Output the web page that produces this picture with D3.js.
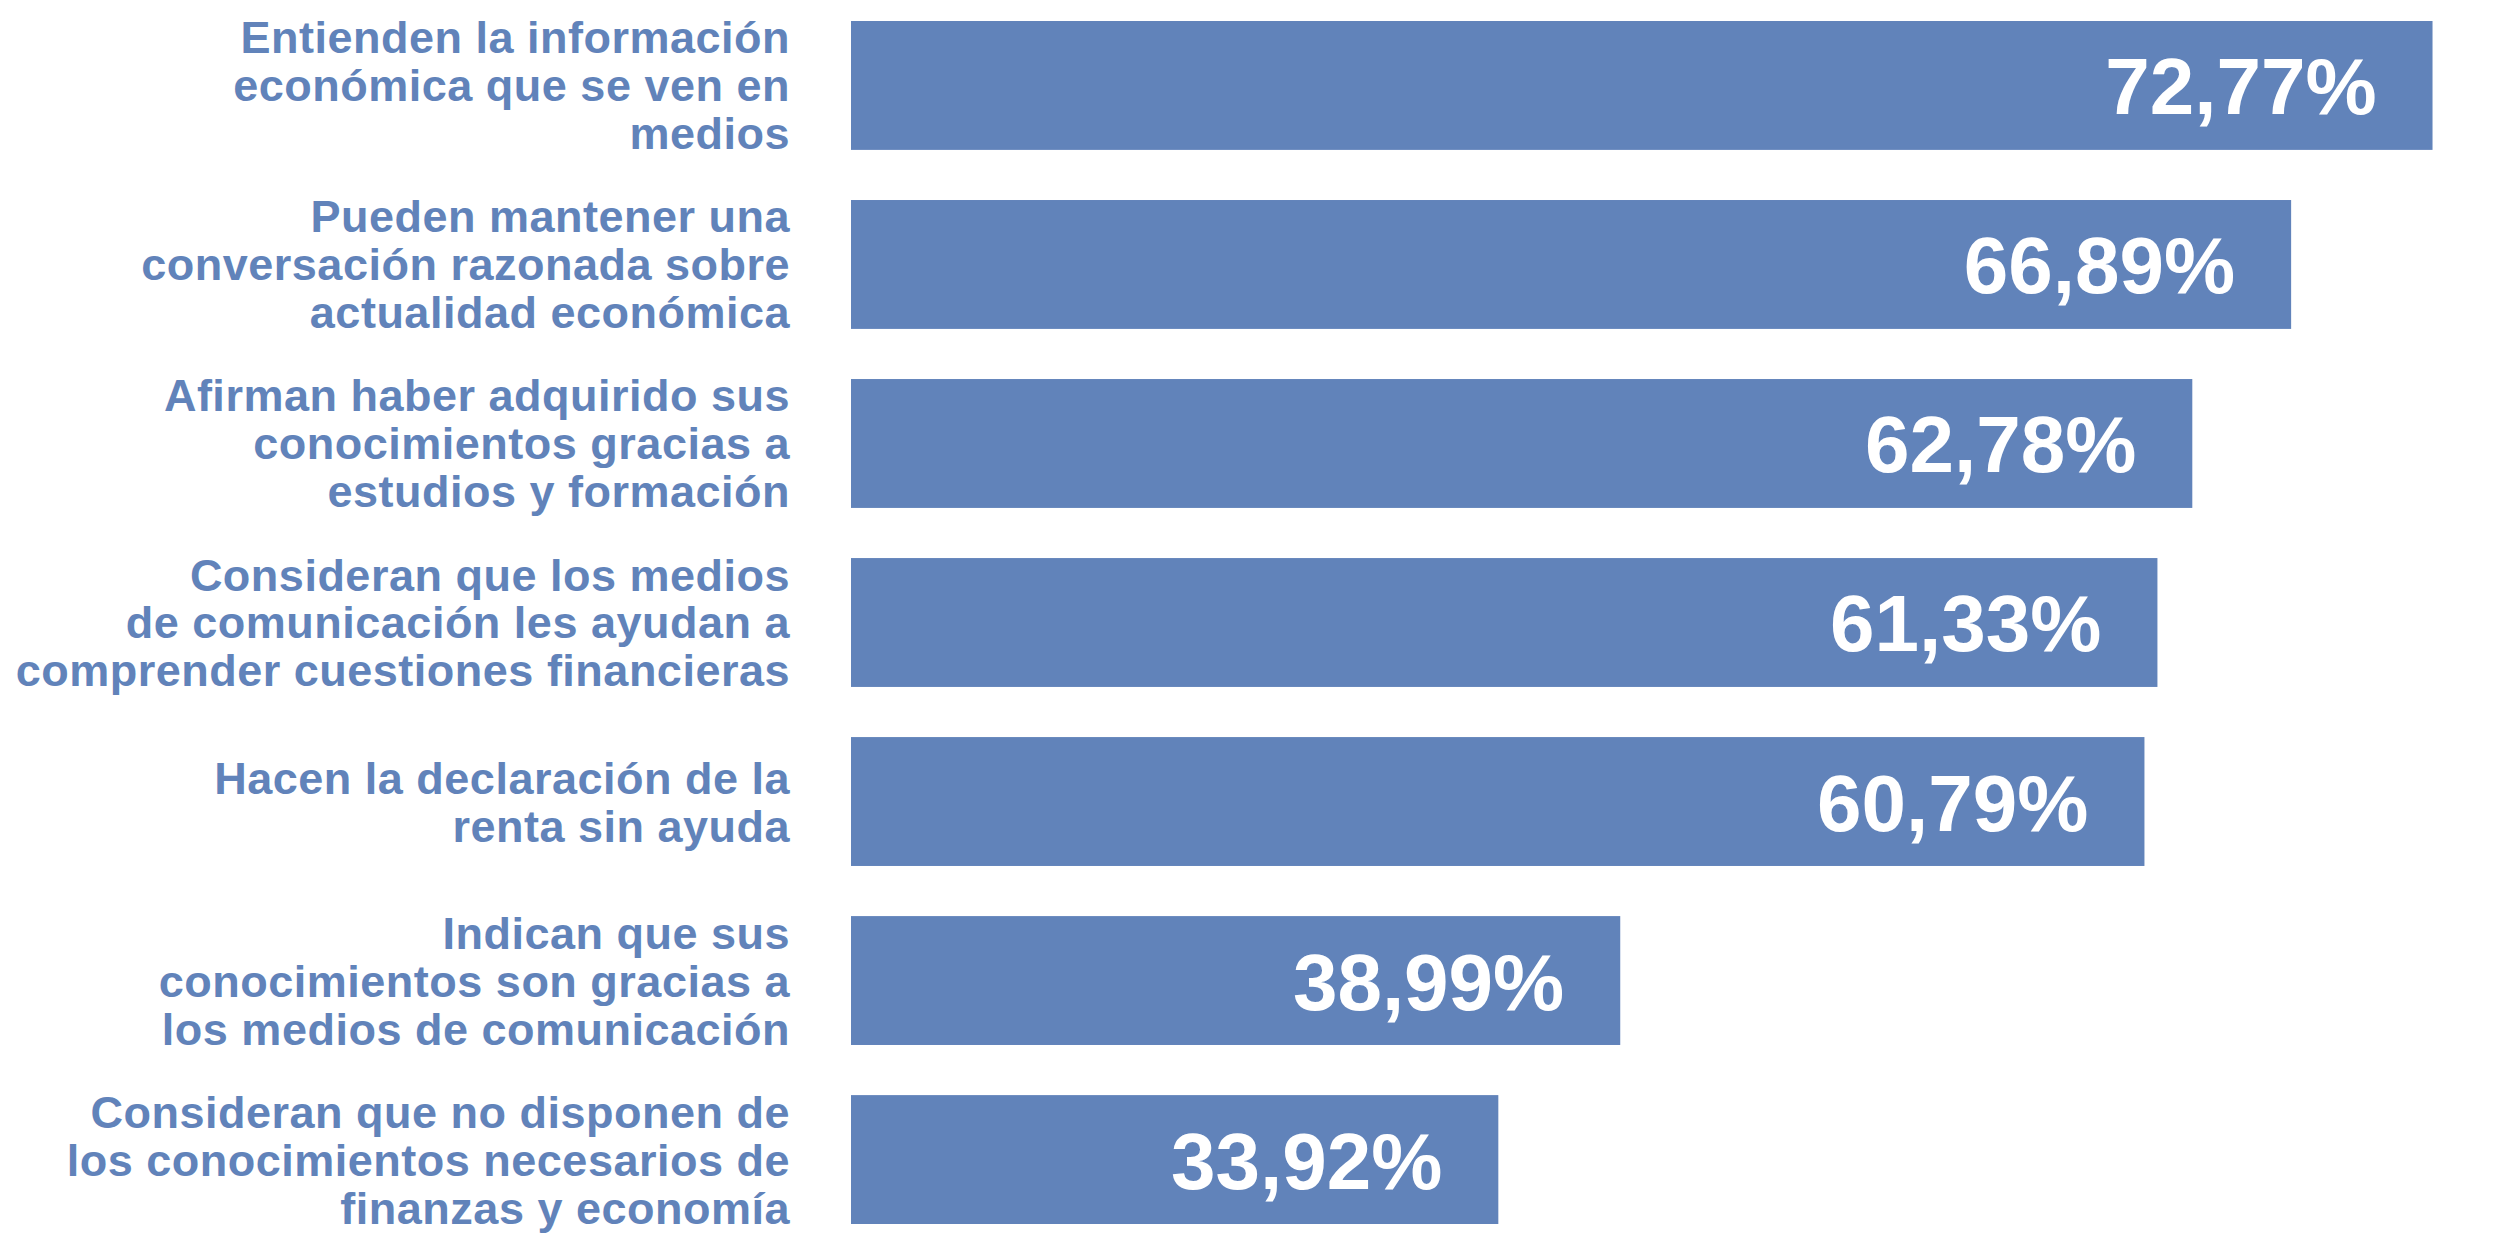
<!DOCTYPE html>
<html>
<head>
<meta charset="utf-8">
<script src="https://cdn.jsdelivr.net/npm/d3@7"></script>
<style>
  html, body { margin: 0; padding: 0; background: #fff; }
  svg { display: block; }
</style>
</head>
<body>
<script>
// label lines as they are broken in the original
const labels = [
  ["Entienden la información", "económica que se ven en", "medios"],
  ["Pueden mantener una", "conversación razonada sobre", "actualidad económica"],
  ["Afirman haber adquirido sus", "conocimientos gracias a", "estudios y formación"],
  ["Consideran que los medios", "de comunicación les ayudan a", "comprender cuestiones financieras"],
  ["Hacen la declaración de la", "renta sin ayuda"],
  ["Indican que sus", "conocimientos son gracias a", "los medios de comunicación"],
  ["Consideran que no disponen de", "los conocimientos necesarios de", "finanzas y economía"]
];
const values = [72.77, 66.89, 62.78, 61.33, 60.79, 38.99, 33.92];
const valueText = ["72,77%", "66,89%", "62,78%", "61,33%", "60,79%", "38,99%", "33,92%"];

const width = 2515, height = 1241;
const color = "#6183ba";
const barLeft = 851, labelRight = 790;

const svg = d3.select("body").append("svg")
  .attr("width", width)
  .attr("height", height)
  .style("font-family", "'Liberation Sans', Arial, Helvetica, sans-serif")
  .style("font-weight", "bold");

// the bars in the original do not start at zero
var x = d3.scaleLinear()
  .domain([7, 76.2])
  .range([barLeft, width]);

var y = d3.scaleBand()
  .domain(d3.range(values.length))
  .range([21, 1224])
  .paddingInner(0.28)
  .paddingOuter(0);

const row = svg.append("g")
  .selectAll("g")
  .data(values)
  .join("g")
    .attr("transform", (d, i) => `translate(0,${y(i)})`);

row.append("rect")
  .attr("x", x(7))
  .attr("width", d => x(d) - x(7))
  .attr("height", y.bandwidth())
  .attr("fill", color);

row.append("text")
  .attr("x", d => x(d) - 56)
  .attr("y", y.bandwidth() / 2 + 29)
  .attr("text-anchor", "end")
  .attr("fill", "#fff")
  .style("font-size", "80px")
  .text((d, i) => valueText[i]);

const lineH = 48;
row.append("text")
  .attr("text-anchor", "end")
  .attr("fill", color)
  .style("font-size", "45px")
  .style("letter-spacing", "0.5px")
  .each(function(d, i) {
    const lines = labels[i];
    const first = y.bandwidth() / 2 - (lines.length - 1) * lineH / 2 + 16;
    d3.select(this).selectAll("tspan")
      .data(lines)
      .join("tspan")
        .attr("x", labelRight)
        .attr("y", (t, j) => first + j * lineH)
        .text(t => t);
  });
</script>
</body>
</html>
